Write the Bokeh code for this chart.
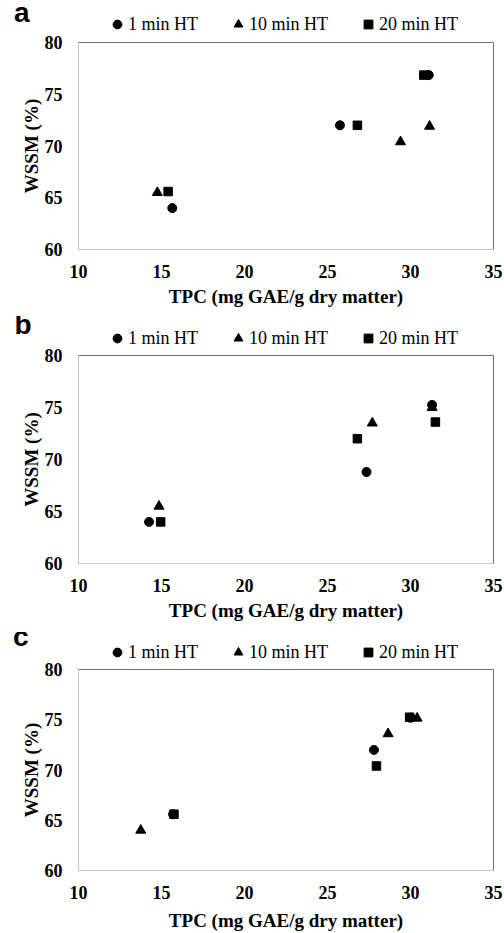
from bokeh.plotting import figure
from bokeh.layouts import column
from bokeh.models import Legend, LegendItem, FixedTicker, Range1d
from bokeh.embed import file_html
from bokeh.resources import INLINE

# ---- data (TPC in mg GAE/g dry matter, WSSM in %) ----
panels = ["a", "b", "c"]
series_names = ["1 min HT", "10 min HT", "20 min HT"]
series_markers = ["circle", "triangle", "square"]

a_1min_x = [15.65, 25.75, 31.1]
a_1min_y = [64.0, 72.0, 76.85]
a_10min_x = [14.75, 29.4, 31.15]
a_10min_y = [65.5, 70.4, 71.9]
a_20min_x = [15.4, 26.8, 30.8]
a_20min_y = [65.6, 72.0, 76.85]

b_1min_x = [14.25, 27.35, 31.3]
b_1min_y = [64.0, 68.8, 75.25]
b_10min_x = [14.85, 27.7, 31.3]
b_10min_y = [65.5, 73.5, 75.0]
b_20min_x = [14.95, 26.8, 31.5]
b_20min_y = [64.0, 72.0, 73.6]

c_1min_x = [15.7, 27.8, 30.0]
c_1min_y = [65.6, 72.0, 75.2]
c_10min_x = [13.75, 28.65, 30.4]
c_10min_y = [64.0, 73.6, 75.15]
c_20min_x = [15.75, 27.95, 29.95]
c_20min_y = [65.6, 70.4, 75.25]

x_ticks = [10, 15, 20, 25, 30, 35]
y_ticks = [60, 65, 70, 75, 80]
x_label = "TPC (mg GAE/g dry matter)"
y_label = "WSSM (%)"

data = {
    "a": [(a_1min_x, a_1min_y), (a_10min_x, a_10min_y), (a_20min_x, a_20min_y)],
    "b": [(b_1min_x, b_1min_y), (b_10min_x, b_10min_y), (b_20min_x, b_20min_y)],
    "c": [(c_1min_x, c_1min_y), (c_10min_x, c_10min_y), (c_20min_x, c_20min_y)],
}

SERIF = "Liberation Serif"
W = 504
# per panel: header height, letter tick (px from header bottom), letter standoff,
#            legend y (px from header bottom), main height, border top, frame height,
#            x axis-label standoff
geom = {
    "a": dict(lh=32, lt=11, lo=43, ly=-3, mh=284, bt=10, fh=207, xs=5),
    "b": dict(lh=31, lt=8, lo=41, ly=-2, mh=285, bt=8, fh=208, xs=5),
    "c": dict(lh=28, lt=7, lo=44, ly=-3, mh=273, bt=9, fh=208, xs=8),
}
marker_sizes = {"circle": 9, "triangle": 10, "square": 8.5}

rows = []
for name in panels:
    g = geom[name]

    # ---- header row: panel letter (as a single y tick label) + legend ----
    hdr = figure(width=W, height=g["lh"], output_backend="svg", toolbar_location=None,
                 x_range=Range1d(x_ticks[0], x_ticks[-1]), y_range=Range1d(0, g["lh"]),
                 x_axis_location=None, y_axis_location="left",
                 min_border_left=78, min_border_right=11,
                 min_border_top=0, min_border_bottom=0)
    hdr.grid.visible = False
    hdr.outline_line_color = None
    hdr.background_fill_color = "white"
    hdr.border_fill_color = "white"
    ya = hdr.yaxis[0]
    ya.ticker = FixedTicker(ticks=[g["lt"]])
    ya.major_label_overrides = {g["lt"]: name}
    ya.axis_line_color = None
    ya.major_tick_line_color = None
    ya.minor_tick_line_color = None
    ya.major_label_standoff = g["lo"]
    ya.major_label_text_font = "Liberation Sans"
    ya.major_label_text_font_style = "bold"
    ya.major_label_text_font_size = "28px"
    ya.major_label_text_color = "black"

    items = []
    for (xs, ys), s, m in zip(data[name], series_names, series_markers):
        # same series drawn in the header; its values fall outside this strip's range
        r = hdr.scatter(xs, ys, marker=m, size=marker_sizes[m], color="black")
        items.append(LegendItem(label=s, renderers=[r]))
    legend = Legend(items=items, orientation="horizontal", location=(28, g["ly"]),
                    label_text_font=SERIF, label_text_font_size="18px",
                    label_text_color="black",
                    glyph_width=22, glyph_height=22, label_standoff=0,
                    spacing=29, padding=0, margin=0,
                    border_line_color=None, background_fill_alpha=0)
    hdr.add_layout(legend)
    rows.append(hdr)

    # ---- main scatter plot ----
    mh, bt, fh = g["mh"], g["bt"], g["fh"]
    p = figure(width=W, height=mh, output_backend="svg", toolbar_location=None,
               x_range=Range1d(x_ticks[0], x_ticks[-1]),
               y_range=Range1d(y_ticks[0], y_ticks[-1]),
               min_border_left=78, min_border_right=11,
               min_border_top=bt, min_border_bottom=mh - bt - fh)
    p.background_fill_color = "white"
    p.border_fill_color = "white"
    p.grid.visible = False
    p.outline_line_color = "#6e6e6e"
    p.outline_line_width = 1

    for ax, ticks in ((p.xaxis, x_ticks), (p.yaxis, y_ticks)):
        ax.ticker = FixedTicker(ticks=ticks)
        ax.major_tick_line_color = None
        ax.minor_tick_line_color = None
        ax.axis_line_color = "#c4c4c4"
        ax.major_label_text_font = SERIF
        ax.major_label_text_font_style = "bold"
        ax.major_label_text_font_size = "18px"
        ax.major_label_text_color = "black"
        ax.axis_label_text_font = SERIF
        ax.axis_label_text_font_style = "bold"
        ax.axis_label_text_font_size = "19px"
        ax.axis_label_text_color = "black"
    p.xaxis.axis_label = x_label
    p.yaxis.axis_label = y_label
    p.xaxis.major_label_standoff = 9
    p.xaxis.axis_label_standoff = g["xs"]
    p.yaxis.major_label_standoff = 10
    p.yaxis.axis_label_standoff = 0

    for (xs, ys), m in zip(data[name], series_markers):
        p.scatter(xs, ys, marker=m, size=marker_sizes[m], color="black")
    rows.append(p)

layout = column(*rows, spacing=0)
open("out.html", "w").write(file_html(layout, INLINE))
